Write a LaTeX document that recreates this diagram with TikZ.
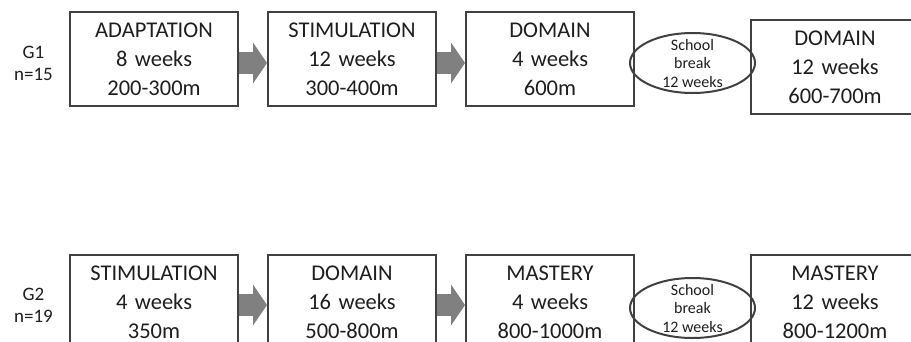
\documentclass[tikz,border=0pt]{standalone}
\usepackage{fontspec}
\setmainfont{Carlito}
\usepackage{tikz}
\usetikzlibrary{
  shapes.geometric,
  arrows.meta,
  positioning,
  calc
}
\definecolor{BoxLine}{RGB}{64, 64, 64}
\definecolor{ArrowGray}{RGB}{128, 128, 128}
\definecolor{TextDark}{RGB}{30, 30, 30}

\begin{document}
\begin{tikzpicture}[
        node distance=147pt and 28pt,
        every node/.style={text=TextDark},
        box/.style={rectangle, draw=BoxLine, line width=2pt, text width=150pt, align=center, minimum width=168pt, minimum height=94pt, font=\fontsize{22.5}{29}\selectfont},
        pause/.style={ellipse, draw=BoxLine, line width=2pt, minimum width=125pt, minimum height=60pt, inner sep=-6pt, align=center, font=\fontsize{16}{18.5}\selectfont},
        group/.style={align=center, inner sep=0pt, font=\fontsize{19}{22}\selectfont},
        arrow/.style={line width=22pt, draw=ArrowGray, -{Triangle[length=14pt, width=41pt, line width=0pt]}}
    ]
    \useasboundingbox (0,0) rectangle (911pt,-341pt);

    % Top row nodes (G1)
    \node[box] (adapt) at (154pt,-59pt) {ADAPTATION\\8 weeks\\200-300m};
    \node[box, right=of adapt] (stim1) {STIMULATION\\12 weeks\\300-400m};
    \node[box, right=of stim1] (dom1) {DOMAIN\\4 weeks\\600m};
    \node[box, right=115pt of dom1, yshift=-8pt] (dom2) {DOMAIN\\12 weeks\\600-700m};
    \node[pause] (brk1) at ($(dom1.east)!0.5!(dom2.west)$) {School\\break\\12 weeks};

    % Bottom row nodes (G2)
    \node[box, below=of adapt] (stim2) {STIMULATION\\4 weeks\\350m};
    \node[box, right=of stim2] (dom3) {DOMAIN\\16 weeks\\500-800m};
    \node[box, right=of dom3] (mast1) {MASTERY\\4 weeks\\800-1000m};
    \node[box, right=115pt of mast1] (mast2) {MASTERY\\12 weeks\\800-1200m};
    \node[pause, yshift=-6pt] (brk2) at ($(mast1.east)!0.5!(mast2.west)$) {School\\break\\12 weeks};

    % Group labels
    \node[group, left=16pt of adapt, yshift=-4pt] (g1) {G1\\n=15};
    \node[group, left=16pt of stim2, yshift=-3pt] (g2) {G2\\n=19};

    % Arrows
    \draw[arrow] ([yshift=-4pt]adapt.east) -- ([yshift=-4pt]stim1.west);
    \draw[arrow] ([yshift=-4pt]stim1.east) -- ([yshift=-4pt]dom1.west);
    \draw[arrow] ([yshift=-3pt]stim2.east) -- ([yshift=-3pt]dom3.west);
    \draw[arrow] ([yshift=-3pt]dom3.east) -- ([yshift=-3pt]mast1.west);

\end{tikzpicture}
\end{document}
